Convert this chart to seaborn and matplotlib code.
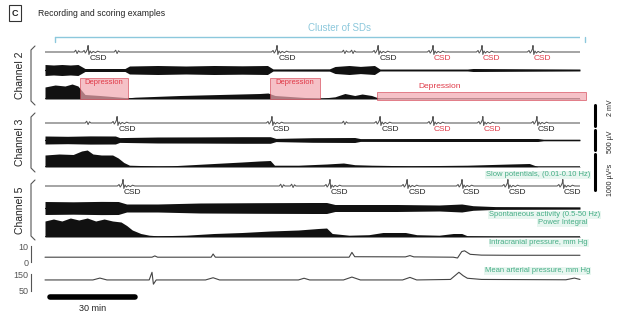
import numpy as np
import matplotlib
matplotlib.use("Agg")
import matplotlib.pyplot as plt
from matplotlib.lines import Line2D
import seaborn as sns

sns.set_style("white")
plt.rcParams['font.family'] = ['Liberation Sans Narrow', 'Liberation Sans', 'DejaVu Sans']

# ---- data (time in minutes) ----
t_end = 190
scale_bar_min = 30
scale_bar_start = 1.8
cluster_span = (3.6, 191.8)

# CSD events and minor slow-potential wiggles
ch2_csd = [15.3, 82.4, 118.3, 137.8, 155.2, 173.3]
ch2_csd_red = [False, False, False, True, True, True]
ch2_minor = [11.4, 25.6, 106.5, 109.4]
ch3_csd = [25.6, 80.6, 119.0, 137.8, 155.5, 174.7]
ch3_csd_red = [False, False, False, True, True, False]
ch3_minor = [15.3, 106.5]
ch5_csd = [27.7, 101.2, 128.6, 148.1, 164.4, 183.9]
ch5_csd_red = [False, False, False, False, False, False]
ch5_minor = [84.2, 88.1]

# slow potential waveform of one CSD / minor wiggle
csd_dt = [-2.0, -1.4, -1.0, -0.6, -0.2, 0.0, 0.3, 0.7, 1.2, 1.8, 2.6, 3.4, 4.2]
csd_dy = [0, 1.5, -1.0, 0.5, 3.0, 6.5, -2.5, 1.0, -1.0, 0.6, -0.6, 0.8, 0]
minor_dt = [-1.0, -0.5, 0.0, 0.5, 1.0]
minor_dy = [0, 1.8, -1.5, 1.2, 0]

# spontaneous activity, half amplitude of envelope
ch2_spont_t = [0, 3, 6, 9, 11.7, 14.2, 28.4, 30, 40, 50, 60, 70, 79, 81, 101, 103, 108, 112, 117, 119, 150, 152, 190]
ch2_spont_a = [5.5, 5, 5.5, 5, 5.5, 1.5, 1.5, 4, 4.5, 4, 4.5, 4.2, 4.5, 1, 1.1, 3.5, 4.5, 3.6, 4.5, 0.9, 0.9, 1.5, 0.9]
ch3_spont_t = [0, 8, 16, 25, 26.5, 40, 55, 70, 80, 82, 95, 110, 112, 140, 175, 177, 190]
ch3_spont_a = [4, 3.7, 4.1, 4, 2.4, 3, 3.1, 3.3, 3.3, 1.6, 2.3, 2.5, 1.4, 1.5, 1.5, 0.7, 0.7]
ch5_spont_t = [0, 10, 20, 26, 29, 40, 55, 75, 95, 100, 103, 125, 140, 148, 152, 160, 190]
ch5_spont_a = [6.5, 6.2, 6.6, 6.5, 4, 4, 5, 5.3, 5.5, 5.5, 3.5, 3.5, 3, 4, 2.3, 1.4, 1.1]

# power integral
ch2_pow_t = [0, 3.6, 7.1, 9.6, 11.7, 14.2, 19.5, 29.5, 32, 48, 62, 76.3, 79.2, 81.7, 90.6, 97.7, 103, 106.5, 110, 112.6, 116, 119, 190]
ch2_pow_v = [12, 14, 13, 15, 13, 4.5, 3.5, 1.2, 1.8, 3.5, 4.5, 5.5, 6, 3.5, 1.8, 0.6, 2.2, 5.5, 3.5, 5, 3.5, 0.4, 0.4]
ch3_pow_t = [0, 5, 10, 13, 15, 17, 20, 24, 26, 28, 30, 40, 45, 60, 70, 76, 80, 81.5, 90, 100, 106, 110, 116, 130, 150, 165, 172, 175, 190]
ch3_pow_v = [12, 13, 12.5, 16, 17, 13, 12, 12, 9, 4.5, 1.8, 1, 1.2, 3.5, 5, 6, 6.5, 1.8, 1.8, 3, 4, 2.3, 1.8, 1.2, 1.8, 3, 3.5, 0.4, 0.4]
ch5_pow_t = [0, 3, 6, 9, 12, 15, 18, 21, 24, 27, 29, 31, 34, 37, 40, 50, 60, 70, 80, 90, 97, 100, 102, 108, 115, 120, 128, 132, 140, 145, 148, 150, 160, 190]
ch5_pow_v = [16, 18, 16, 19, 17, 19, 16, 18, 16, 15, 11.5, 7, 3.5, 1.8, 1.2, 1.8, 3.5, 4.5, 6, 7, 8.5, 9, 3.5, 1.8, 2.3, 4.5, 4.5, 2.3, 1.8, 3.5, 3.5, 1.2, 0.6, 0.6]

# pressures, mm Hg
icp_t = [0, 38, 39, 40, 59, 59.7, 60.5, 108, 109, 110, 128, 129.6, 131, 145, 146.5, 148, 149, 151, 155, 165, 190]
icp_v = [3, 3, 3.8, 3, 3, 5, 3, 3, 6, 3.3, 3.2, 4, 3.2, 3, 2.5, 6.5, 7, 4.8, 4.3, 4.2, 4.2]
map_t = [0, 17, 19.5, 22, 37, 38, 38.5, 39.5, 57, 59.7, 62, 90, 92, 94, 106, 109, 112, 127, 129.6, 132, 144, 147, 148.5, 150, 155, 185, 188, 190]
map_v = [115, 115, 126, 115, 115, 160, 90, 115, 115, 128, 115, 115, 125, 115, 115, 132, 115, 115, 130, 115, 118, 160, 140, 125, 118, 116, 126, 118]

# spreading depression periods (channel 2)
dep_start = [12.4, 80.0, 118.0]
dep_end = [29.5, 97.5, 192.0]

# ---- figure ----
FW, FH = 624, 320
X0, XW = 45, 535
fig = plt.figure(figsize=(FW / 100, FH / 100), dpi=100)

RED = '#e03a48'
GREEN = '#45ad85'
BLUE = '#8cc8dc'
INK = '#222222'


def track(top, height, ylim):
    ax = fig.add_axes([X0 / FW, 1 - (top + height) / FH, XW / FW, height / FH])
    ax.set_xlim(0, t_end)
    ax.set_ylim(*ylim)
    ax.axis('off')
    return ax


def slow_trace(ax, csd, red, minor):
    events = [(c, csd_dt, csd_dy) for c in csd] + [(m, minor_dt, minor_dy) for m in minor]
    events.sort(key=lambda e: e[0])
    t, y = [0], [0]
    for tc, dts, dys in events:
        t += [tc + d for d in dts]
        y += list(dys)
    t.append(t_end)
    y.append(0)
    sns.lineplot(x=t, y=y, ax=ax, color='#555555', linewidth=0.75, estimator=None, sort=False)
    for c, r in zip(csd, red):
        ax.text(c + 3.5, -6.5, 'CSD', ha='center', va='center', fontsize=6,
                color=RED if r else INK, clip_on=False)


def spont_trace(ax, t, a):
    a = np.asarray(a)
    ax.fill_between(t, -a, a, color='#111111', lw=0)
    sns.lineplot(x=t, y=np.zeros(len(t)), ax=ax, color='#111111', linewidth=0.9, estimator=None)


def power_trace(ax, t, v):
    ax.fill_between(t, 0, v, color='#111111', lw=0)
    sns.lineplot(x=[0, t_end], y=[0, 0], ax=ax, color='#111111', linewidth=1.1, estimator=None)


# title
fig.text(15 / FW, 1 - 13 / FH, 'C', ha='center', va='center', fontsize=6.5, weight='bold', color=INK,
         bbox=dict(boxstyle='square,pad=0.35', fc='white', ec='#333333', lw=0.8))
fig.text(38 / FW, 1 - 13 / FH, 'Recording and scoring examples', ha='left', va='center',
         fontsize=6.2, color=INK)

# cluster of SDs
ax_cl = track(30, 14, (0, 1))
sns.lineplot(x=list(cluster_span), y=[0.5, 0.5], ax=ax_cl, color=BLUE, linewidth=1.0, estimator=None)
ax_cl.plot([cluster_span[0]] * 2, [0.5, 0.15], color=BLUE, lw=1.0, clip_on=False)
ax_cl.plot([cluster_span[1]] * 2, [0.5, 0.15], color=BLUE, lw=1.0, clip_on=False)
fig.text(340 / FW, 1 - 28 / FH, 'Cluster of SDs', ha='center', va='center', fontsize=7, color=BLUE)

# channel 2
slow_trace(track(42, 20, (-10, 10)), ch2_csd, ch2_csd_red, ch2_minor)
spont_trace(track(60, 20, (-10, 10)), ch2_spont_t, ch2_spont_a)
power_trace(track(79, 20, (0, 20)), ch2_pow_t, ch2_pow_v)
ax_dep = track(77, 23, (0, 1))
for i, (s, e) in enumerate(zip(dep_start, dep_end)):
    lo, hi = (0.05, 0.95) if i < 2 else (0.0, 0.35)
    ax_dep.axvspan(s, e, ymin=lo, ymax=hi, fc='#f2a7b0', ec='#d23c4c', lw=0.6, alpha=0.7, clip_on=False)
    if i < 2:
        ax_dep.text((s + e) / 2, 0.78, 'Depression', ha='center', va='center', fontsize=5.5, color=RED)
    else:
        ax_dep.text(140, 0.6, 'Depression', ha='center', va='center', fontsize=6, color=RED)

# channel 3
slow_trace(track(113, 20, (-10, 10)), ch3_csd, ch3_csd_red, ch3_minor)
spont_trace(track(130, 20, (-10, 10)), ch3_spont_t, ch3_spont_a)
power_trace(track(147, 20, (0, 20)), ch3_pow_t, ch3_pow_v)

# channel 5
slow_trace(track(176, 20, (-10, 10)), ch5_csd, ch5_csd_red, ch5_minor)
spont_trace(track(198, 20, (-10, 10)), ch5_spont_t, ch5_spont_a)
power_trace(track(217, 20, (0, 20)), ch5_pow_t, ch5_pow_v)

# pressures
for top, h, lim, tt, vv, ticks in [(246, 16, (0, 10), icp_t, icp_v, [0, 10]),
                                   (274, 17, (50, 150), map_t, map_v, [50, 150])]:
    ax = track(top, h, lim)
    ax.axis('on')
    sns.lineplot(x=tt, y=vv, ax=ax, color='#444444', linewidth=0.8, estimator=None)
    for sp in ['top', 'right', 'bottom']:
        ax.spines[sp].set_visible(False)
    ax.spines['left'].set_position(('outward', 10))
    ax.spines['left'].set_color('#555555')
    ax.spines['left'].set_linewidth(0.8)
    ax.set_xticks([])
    ax.set_yticks(ticks)
    ax.tick_params(axis='y', direction='in', length=3, width=0.8, labelsize=6.5,
                   colors='#555555', pad=2)
    ax.set_xlabel('')
    ax.set_ylabel('')
    for line in ax.get_lines():
        line.set_clip_on(False)

# time scale bar
ax_sb = track(290, 25, (0, 1))
sns.lineplot(x=[scale_bar_start, scale_bar_start + scale_bar_min], y=[0.72, 0.72], ax=ax_sb,
             color='black', linewidth=4, estimator=None)
ax_sb.text(scale_bar_start + scale_bar_min / 2, 0.25, '30 min', ha='center', va='center',
           fontsize=6.5, color=INK)

# channel brackets and labels
for name, top, bot in [('Channel 2', 46, 105), ('Channel 3', 113, 172), ('Channel 5', 180, 240)]:
    xs = np.array([35, 31, 31, 35]) / FW
    ys = 1 - np.array([top, top + 4, bot - 4, bot]) / FH
    fig.add_artist(Line2D(xs, ys, color='#555555', lw=0.8))
    fig.text(20 / FW, 1 - (top + bot) / 2 / FH, name, rotation=90, ha='center', va='center',
             fontsize=7.5, color=INK)

# amplitude scale bars
for y0, y1, lab, yt in [(105, 126, '2 mV', 108), (130, 150, '500 µV', 142), (154, 190, '1000 µV²s', 180)]:
    fig.add_artist(Line2D([595 / FW] * 2, [1 - y0 / FH, 1 - y1 / FH], color='black', lw=2.2))
    fig.text(611 / FW, 1 - yt / FH, lab, rotation=90, ha='center', va='center',
             fontsize=5, color=INK)

# green track labels
for txt, xr, y in [('Slow potentials, (0.01-0.10 Hz)', 590, 175),
                   ('Spontaneous activity (0.5-50 Hz)', 600, 215),
                   ('Power Integral', 587, 223),
                   ('Intracranial pressure, mm Hg', 588, 243),
                   ('Mean arterial pressure, mm Hg', 590, 271)]:
    fig.text(xr / FW, 1 - y / FH, txt, ha='right', va='center', fontsize=5.5, color=GREEN,
             bbox=dict(boxstyle='square,pad=0.1', fc='#e8f6f0', ec='none'))

fig.savefig('out.png', dpi=100)
